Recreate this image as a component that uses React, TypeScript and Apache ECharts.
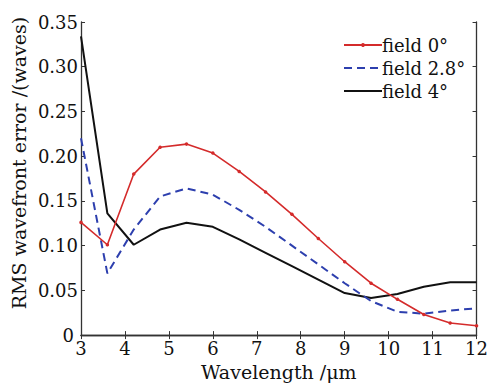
import React, { useEffect, useRef } from "react";
import * as echarts from "echarts";

const wavelengths = [3, 3.6, 4.2, 4.8, 5.4, 6.0, 6.6, 7.2, 7.8, 8.4, 9.0, 9.6, 10.2, 10.8, 11.4, 12];
const field0 = [0.126, 0.101, 0.180, 0.210, 0.2135, 0.2035, 0.183, 0.160, 0.135, 0.108, 0.082, 0.058, 0.040, 0.023, 0.0135, 0.0105];
const field28 = [0.220, 0.069, 0.118, 0.155, 0.164, 0.157, 0.140, 0.121, 0.100, 0.079, 0.058, 0.038, 0.026, 0.024, 0.0275, 0.030];
const field4 = [0.334, 0.136, 0.101, 0.118, 0.1255, 0.121, 0.107, 0.092, 0.077, 0.062, 0.047, 0.0415, 0.046, 0.054, 0.059, 0.059];
const seriesNames = ["field 0°", "field 2.8°", "field 4°"];
const xName = "Wavelength /μm";
const yName = "RMS wavefront error /(waves)";

const FONT = "DejaVu Serif";

export default function App() {
  const ref = useRef<HTMLDivElement>(null);
  useEffect(() => {
    document.documentElement.style.margin = "0";
    document.documentElement.style.overflow = "hidden";
    document.body.style.margin = "0";
    document.body.style.overflow = "hidden";
    if (!ref.current) return;
    const chart = echarts.init(ref.current, undefined, { renderer: "svg" });
    const pair = (ys: number[]) => wavelengths.map((x, i) => [x, ys[i]]);
    const axisLine = { show: true, lineStyle: { color: "#333", width: 1.3 } };
    const tick = { show: true, inside: true, length: 4, lineStyle: { color: "#333", width: 1 } };
    chart.setOption({
      animation: false,
      backgroundColor: "#fff",
      textStyle: { fontFamily: FONT },
      grid: { left: 81, top: 22, right: 4, bottom: 46, containLabel: false },
      legend: {
        orient: "vertical",
        left: 338,
        top: 31,
        itemWidth: 38,
        itemHeight: 5,
        itemGap: 5,
        textStyle: { fontFamily: FONT, fontSize: 18, color: "#111", padding: [0, 0, 0, -5] },
        data: [
          { name: seriesNames[0] },
          { name: seriesNames[1], itemStyle: { opacity: 0 } },
          { name: seriesNames[2], itemStyle: { opacity: 0 } },
        ],
      },
      xAxis: [
        {
          type: "value",
          min: 3,
          max: 12,
          interval: 1,
          axisLine,
          axisTick: tick,
          splitLine: { show: false },
          axisLabel: { fontFamily: FONT, fontSize: 18, color: "#111", margin: 4 },
          name: xName,
          nameLocation: "middle",
          nameGap: 24,
          nameTextStyle: { fontFamily: FONT, fontSize: 19, color: "#111" },
        },
        {
          type: "value",
          position: "top",
          min: 3,
          max: 12,
          interval: 1,
          axisLine,
          axisTick: tick,
          splitLine: { show: false },
          axisLabel: { show: false },
        },
      ],
      yAxis: [
        {
          type: "value",
          min: 0,
          max: 0.35,
          interval: 0.05,
          axisLine,
          axisTick: tick,
          splitLine: { show: false },
          axisLabel: {
            fontFamily: FONT,
            fontSize: 18,
            color: "#111",
            margin: 3,
            formatter: (v: number) => (v === 0 ? "{z|0}" : v.toFixed(2)),
            rich: {
              z: { fontFamily: FONT, fontSize: 18, color: "#111", padding: [0, 4, 0, 0] },
            },
          },
        },
        {
          type: "value",
          position: "right",
          min: 0,
          max: 0.35,
          interval: 0.05,
          axisLine,
          axisTick: tick,
          splitLine: { show: false },
          axisLabel: { show: false },
        },
      ],
      graphic: [
        {
          type: "text",
          x: 19,
          y: 163,
          rotation: Math.PI / 2,
          style: {
            text: yName,
            fontFamily: FONT,
            fontSize: 19,
            fill: "#111",
            textAlign: "center",
            textVerticalAlign: "middle",
          },
        },
      ],
      series: [
        {
          name: seriesNames[0],
          type: "line",
          data: pair(field0),
          symbol: "circle",
          symbolSize: 3.5,
          showSymbol: true,
          itemStyle: { color: "#d42b2b" },
          lineStyle: { color: "#d42b2b", width: 1.6 },
          z: 4,
        },
        {
          name: seriesNames[1],
          type: "line",
          data: pair(field28),
          symbol: "none",
          itemStyle: { color: "#2d3fae" },
          lineStyle: { color: "#2d3fae", width: 2, type: [8, 5] },
          z: 3,
        },
        {
          name: seriesNames[2],
          type: "line",
          data: pair(field4),
          symbol: "none",
          itemStyle: { color: "#111" },
          lineStyle: { color: "#111", width: 2 },
          z: 2,
        },
      ],
    });
    return () => chart.dispose();
  }, []);
  return <div ref={ref} style={{ display: "block", width: 491, height: 386, background: "#fff" }} />;
}
